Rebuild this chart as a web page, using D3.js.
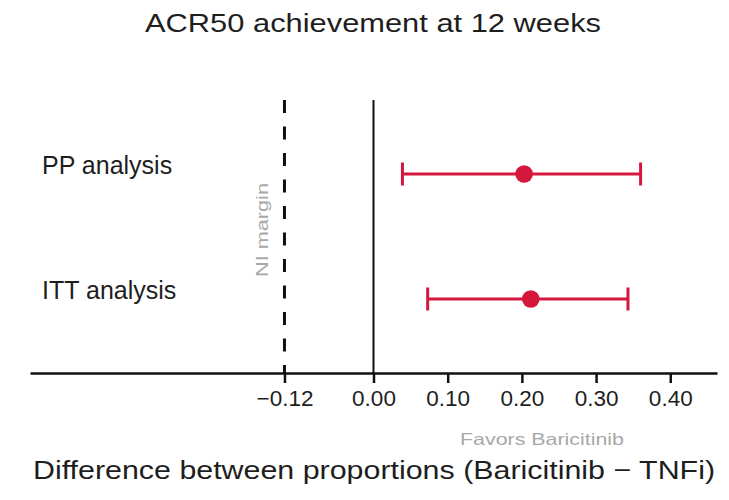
<!DOCTYPE html>
<html>
<head>
<meta charset="utf-8">
<script src="https://cdn.jsdelivr.net/npm/d3@7"></script>
<style>
  html, body { margin: 0; padding: 0; background: #fff; }
  svg { display: block; font-family: "Liberation Sans", Arial, Helvetica, sans-serif; }
</style>
</head>
<body>
<svg id="chart" width="729" height="500"></svg>
<script>
// Risk-difference estimates with 95% confidence intervals
const analyses = ["PP analysis", "ITT analysis"];
const estimates = [0.203, 0.212];
const lowerCI = [0.039, 0.073];
const upperCI = [0.360, 0.343];

const tickValues = [-0.12, 0.00, 0.10, 0.20, 0.30, 0.40];
const niMargin = -0.12;

const titleText = "ACR50 achievement at 12 weeks";
const xAxisTitle = "Difference between proportions (Baricitinib \u2212 TNFi)";
const favorsText = "Favors Baricitinib";
const marginText = "NI margin";

const rows = analyses.map((name, i) => ({
  name, est: estimates[i], lo: lowerCI[i], hi: upperCI[i]
}));

const plot = { left: 30, right: 717, top: 100, bottom: 373 };
const red = "#d5173e";
const ink = "#1e1e1e";

const svg = d3.select("#chart");

const x = d3.scaleLinear().domain([-0.463, 0.463]).range([plot.left, plot.right]);
const y = d3.scalePoint().domain(analyses).range([plot.top, plot.bottom]).padding(0.592);

// Title
svg.append("text")
  .attr("x", 373).attr("y", 32)
  .attr("text-anchor", "middle")
  .attr("font-size", 25.5)
  .attr("textLength", 456)
  .attr("lengthAdjust", "spacingAndGlyphs")
  .attr("fill", ink)
  .text(titleText);

// Non-inferiority margin (dashed)
svg.append("line")
  .attr("x1", x(niMargin)).attr("x2", x(niMargin))
  .attr("y1", plot.top).attr("y2", plot.bottom)
  .attr("stroke", "#111").attr("stroke-width", 3)
  .attr("stroke-dasharray", "13,13.5");

svg.append("text")
  .attr("transform", `translate(${x(niMargin) - 16},230) rotate(-90)`)
  .attr("text-anchor", "middle")
  .attr("font-size", 16)
  .attr("textLength", 94)
  .attr("lengthAdjust", "spacingAndGlyphs")
  .attr("fill", "#a8a8a8")
  .text(marginText);

// Line of no difference
svg.append("line")
  .attr("x1", x(0)).attr("x2", x(0))
  .attr("y1", plot.top).attr("y2", plot.bottom)
  .attr("stroke", "#111").attr("stroke-width", 2);

// X axis
const xAxis = d3.axisBottom(x)
  .tickValues(tickValues)
  .tickFormat(d3.format(".2f"))
  .tickSize(10)
  .tickPadding(7)
  .tickSizeOuter(0);

const gx = svg.append("g")
  .attr("transform", `translate(0,${plot.bottom})`)
  .call(xAxis);
gx.select(".domain").attr("stroke", "#111").attr("stroke-width", 2.5);
gx.selectAll(".tick line").attr("stroke", "#111").attr("stroke-width", 2.5);
gx.selectAll(".tick text")
  .attr("font-size", 22.5)
  .attr("font-family", "\"Liberation Sans\", Arial, sans-serif")
  .attr("fill", ink);

// Row labels
svg.selectAll("text.row-label")
  .data(rows).join("text")
  .attr("class", "row-label")
  .attr("x", 42).attr("y", d => y(d.name))
  .attr("font-size", 25)
  .attr("fill", ink)
  .text(d => d.name);

// Confidence intervals
const ci = svg.selectAll("g.ci").data(rows).join("g").attr("class", "ci");
ci.append("line")
  .attr("x1", d => x(d.lo)).attr("x2", d => x(d.hi))
  .attr("y1", d => y(d.name)).attr("y2", d => y(d.name))
  .attr("stroke", red).attr("stroke-width", 3);
ci.append("line")
  .attr("x1", d => x(d.lo)).attr("x2", d => x(d.lo))
  .attr("y1", d => y(d.name) - 11.5).attr("y2", d => y(d.name) + 11.5)
  .attr("stroke", red).attr("stroke-width", 3);
ci.append("line")
  .attr("x1", d => x(d.hi)).attr("x2", d => x(d.hi))
  .attr("y1", d => y(d.name) - 11.5).attr("y2", d => y(d.name) + 11.5)
  .attr("stroke", red).attr("stroke-width", 3);
ci.append("circle")
  .attr("cx", d => x(d.est)).attr("cy", d => y(d.name))
  .attr("r", 8.8)
  .attr("fill", red);

// Direction note and axis title
svg.append("text")
  .attr("x", 542).attr("y", 445)
  .attr("text-anchor", "middle")
  .attr("font-size", 16.5)
  .attr("textLength", 164)
  .attr("lengthAdjust", "spacingAndGlyphs")
  .attr("fill", "#a8a8a8")
  .text(favorsText);

svg.append("text")
  .attr("x", 33).attr("y", 479)
  .attr("font-size", 26)
  .attr("textLength", 682)
  .attr("lengthAdjust", "spacingAndGlyphs")
  .attr("fill", ink)
  .text(xAxisTitle);
</script>
</body>
</html>
